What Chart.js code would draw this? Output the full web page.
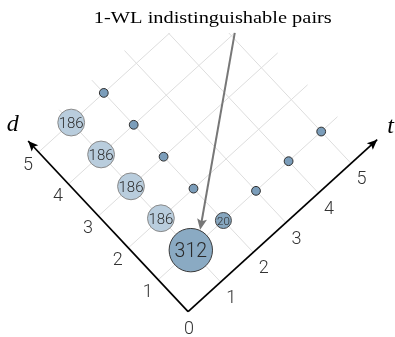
<!DOCTYPE html>
<html><head><meta charset="utf-8">
<script src="https://cdn.jsdelivr.net/npm/chart.js@4"></script>
<style>html,body{margin:0;padding:0;background:#fff;overflow:hidden}#wrap{width:395px;height:337px;position:relative}</style>
</head><body><div id="wrap"><canvas id="c"></canvas></div>
<script>
// ---------------- data ----------------
const TITLE = '1-WL indistinguishable pairs';
const AXIS_D_NAME = 'd';
const AXIS_T_NAME = 't';
const D_TICKS = [1, 2, 3, 4, 5];
const T_TICKS = [1, 2, 3, 4, 5];
const ORIGIN_TICK = '0';
const GRID_D = [1, 2, 3, 4, 5];
const GRID_T = [1, 2, 3, 4, 5];
const GRID_D_MAX = 5.4;
const GRID_T_MAX = 5.5;
const AXIS_D_END = 5.35;
const AXIS_T_END = 5.8;
// bubbles (d, t, count)
const BIG_D = [1], BIG_T = [1], BIG_COUNT = [312];
const MID_D = [2, 3, 4, 5], MID_T = [1, 1, 1, 1], MID_COUNT = [186, 186, 186, 186];
const SMALL_D = [1], SMALL_T = [2], SMALL_COUNT = [20];
const DOT_D = [2, 3, 4, 5, 1, 1, 1], DOT_T = [2, 2, 2, 2, 3, 4, 5];
// annotation arrow anchors (d, t)
const NOTE_FROM = [4.0, 5.1];
const NOTE_TO = [1.2, 1.47];

// ------------- oblique projection of (d, t) onto the chart's x / y scales -------------
const PROJ = { x0: 188.1, xd: -29.9, xt: 32.6, y0: 25.3, yd: 31.9, yt: 29.65 };
const pt = (d, t) => ({ x: PROJ.x0 + PROJ.xd * d + PROJ.xt * t, y: PROJ.y0 + PROJ.yd * d + PROJ.yt * t });

const datasets = [];
function bubbleSet(D, T, C, style) {
  return Object.assign({
    type: 'bubble', order: 1,
    data: D.map((d, i) => Object.assign(pt(d, T[i]), { count: C ? C[i] : null })),
  }, style);
}
datasets.push(bubbleSet(BIG_D, BIG_T, BIG_COUNT, { radius: 21.7, backgroundColor: '#8aaac3', borderColor: '#3a3a3a', borderWidth: 1, labelSize: 19.5 }));
datasets.push(bubbleSet(MID_D, MID_T, MID_COUNT, { radius: 13.4, backgroundColor: '#b9cddd', borderColor: '#8a8a8a', borderWidth: 1, labelSize: 15 }));
datasets.push(bubbleSet(SMALL_D, SMALL_T, SMALL_COUNT, { radius: 8, backgroundColor: '#86a6bf', borderColor: '#444', borderWidth: 1, labelSize: 11.5 }));
datasets.push(bubbleSet(DOT_D, DOT_T, null, { radius: 4.4, backgroundColor: '#7b9dba', borderColor: '#2e2e2e', borderWidth: 1 }));
// axes
datasets.push({ type: 'line', order: 2, data: [pt(0, 0), pt(AXIS_D_END, 0)], borderColor: '#000', borderWidth: 1.7, pointRadius: 0, arrowHead: { len: 10, half: 4.5, color: '#000' } });
datasets.push({ type: 'line', order: 2, data: [pt(0, 0), pt(0, AXIS_T_END)], borderColor: '#000', borderWidth: 1.7, pointRadius: 0, arrowHead: { len: 10, half: 4.5, color: '#000' } });
// grid
GRID_D.forEach(d => datasets.push({ type: 'line', order: 3, data: [pt(d, 0), pt(d, GRID_T_MAX)], borderColor: '#dddddd', borderWidth: 1, pointRadius: 0 }));
GRID_T.forEach(t => datasets.push({ type: 'line', order: 3, data: [pt(0, t), pt(GRID_D_MAX, t)], borderColor: '#dddddd', borderWidth: 1, pointRadius: 0 }));

const SANS = 'Roboto, "Liberation Sans", sans-serif';
const SERIF = '"Liberation Serif", "Times New Roman", serif';

function head(ctx, a, b, o) {
  const ang = Math.atan2(b.y - a.y, b.x - a.x);
  ctx.save();
  ctx.translate(b.x, b.y); ctx.rotate(ang);
  ctx.fillStyle = o.color;
  ctx.beginPath();
  ctx.moveTo(0, 0); ctx.lineTo(-o.len, o.half); ctx.lineTo(-o.len * 0.8, 0); ctx.lineTo(-o.len, -o.half);
  ctx.closePath(); ctx.fill();
  ctx.restore();
}

const decor = {
  id: 'decor',
  afterDatasetsDraw(chart) {
    const ctx = chart.ctx, xs = chart.scales.x, ys = chart.scales.y;
    const P = (d, t) => { const q = pt(d, t); return { x: xs.getPixelForValue(q.x), y: ys.getPixelForValue(q.y) }; };
    ctx.save();
    // title (serif, slightly widened like the original)
    ctx.save();
    ctx.font = '17px ' + SERIF; ctx.fillStyle = '#000'; ctx.textAlign = 'center'; ctx.textBaseline = 'alphabetic';
    ctx.translate(212.8, 22.5); ctx.scale(1.2, 1);
    ctx.fillText(TITLE, 0, 0);
    ctx.restore();
    // bubble labels
    chart.data.datasets.forEach((ds, i) => {
      if (ds.type !== 'bubble' || !ds.labelSize) return;
      const meta = chart.getDatasetMeta(i);
      ctx.font = '300 ' + ds.labelSize + 'px ' + SANS;
      ctx.fillStyle = '#2a2a2a'; ctx.textAlign = 'center'; ctx.textBaseline = 'alphabetic';
      meta.data.forEach((el, j) => {
        const c = ds.data[j].count;
        if (c == null) return;
        ctx.fillText(String(c), el.x, el.y + 0.355 * ds.labelSize);
      });
    });
    // axis arrowheads and names
    chart.data.datasets.forEach((ds, i) => {
      if (!ds.arrowHead) return;
      const pts = chart.getDatasetMeta(i).data;
      head(ctx, pts[0], pts[pts.length - 1], ds.arrowHead);
    });
    ctx.font = 'italic 24px ' + SERIF; ctx.fillStyle = '#000'; ctx.textAlign = 'center'; ctx.textBaseline = 'alphabetic';
    const dTip = P(AXIS_D_END, 0), tTip = P(0, AXIS_T_END);
    ctx.fillText(AXIS_D_NAME, dTip.x - 15.5, dTip.y - 10);
    ctx.fillText(AXIS_T_NAME, tTip.x + 13.5, tTip.y - 7);
    // tick labels
    const fs = 18;
    ctx.font = '300 ' + fs + 'px ' + SANS; ctx.fillStyle = '#333';
    D_TICKS.forEach(k => { const p = P(k, 0); ctx.fillText(String(k), p.x - 10.5, p.y + 11 + 0.355 * fs); });
    T_TICKS.forEach(k => { const p = P(0, k); ctx.fillText(String(k), p.x + 10.5, p.y + 14.5 + 0.355 * fs); });
    const o = P(0, 0);
    ctx.fillText(ORIGIN_TICK, o.x + 1, o.y + 16 + 0.355 * fs);
    // annotation arrow
    const a = P(NOTE_FROM[0], NOTE_FROM[1]), b = P(NOTE_TO[0], NOTE_TO[1]);
    const ang = Math.atan2(b.y - a.y, b.x - a.x);
    ctx.strokeStyle = '#777'; ctx.lineWidth = 2;
    ctx.beginPath(); ctx.moveTo(a.x, a.y); ctx.lineTo(b.x - Math.cos(ang) * 8, b.y - Math.sin(ang) * 8); ctx.stroke();
    head(ctx, a, b, { len: 11, half: 5, color: '#777' });
    ctx.restore();
  }
};

new Chart(document.getElementById('c'), {
  type: 'bubble',
  data: { datasets },
  options: {
    responsive: true, maintainAspectRatio: false, animation: false, events: [],
    layout: { padding: { top: 33, left: 0, right: 0, bottom: 0 }, autoPadding: false },
    scales: {
      x: { type: 'linear', min: 0, max: 395, display: false },
      y: { type: 'linear', min: 0, max: 304, display: false }
    },
    plugins: { legend: { display: false }, tooltip: { enabled: false }, title: { display: false } }
  },
  plugins: [decor]
});
</script></body></html>
